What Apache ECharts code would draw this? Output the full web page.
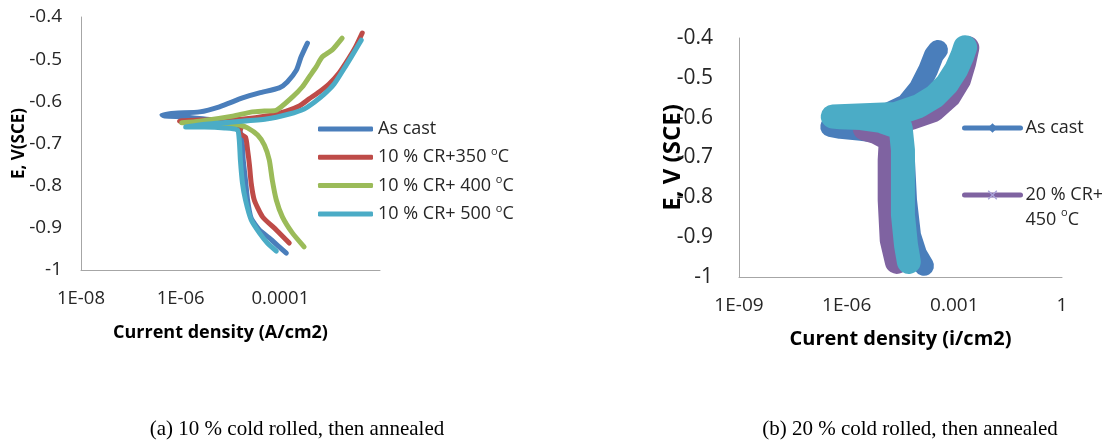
<!DOCTYPE html>
<html>
<head>
<meta charset="utf-8">
<script src="https://cdn.jsdelivr.net/npm/echarts@6/dist/echarts.min.js"></script>
<style>
  html, body { margin: 0; padding: 0; background: #fff; }
  #chart { width: 1102px; height: 442px; }
</style>
</head>
<body>
<div id="chart"></div>
<script>
// Potentiodynamic polarisation scans, each point = [current density (A/cm2), E vs SCE (V)]
// (a) 10 % cold rolled, then annealed
const asCast10 = [
  [1.32e-4, -0.960], [9.5e-5, -0.945], [6.0e-5, -0.924], [3.8e-5, -0.905], [2.6e-5, -0.877],
  [2.2e-5, -0.834], [2.0e-5, -0.787], [1.8e-5, -0.739], [1.74e-5, -0.704], [1.6e-5, -0.675],
  [1.26e-5, -0.656], [7.6e-6, -0.647], [3.0e-6, -0.642], [1.2e-6, -0.637], [4.8e-7, -0.635],
  [4.2e-7, -0.632], [7.6e-7, -0.628], [2.4e-6, -0.625], [6.0e-6, -0.613], [1.74e-5, -0.592],
  [3.8e-5, -0.580], [9.5e-5, -0.568], [1.38e-4, -0.554], [2.1e-4, -0.526], [2.6e-4, -0.495],
  [3.5e-4, -0.462]
];
const cr10_350 = [
  [1.51e-4, -0.936], [8.3e-5, -0.905], [4.4e-5, -0.874], [3.0e-5, -0.834], [2.6e-5, -0.794],
  [2.4e-5, -0.751], [2.2e-5, -0.715], [2.0e-5, -0.685], [1.5e-5, -0.675], [1.66e-5, -0.661],
  [7.6e-6, -0.651], [2.4e-6, -0.649], [9.5e-7, -0.647], [2.4e-6, -0.644], [1.1e-5, -0.644],
  [5.2e-5, -0.635], [1.32e-4, -0.623], [2.4e-4, -0.611], [3.8e-4, -0.594], [6.0e-4, -0.578],
  [9.5e-4, -0.559], [1.51e-3, -0.533], [2.4e-3, -0.497], [3.3e-3, -0.469], [4.4e-3, -0.438]
];
const cr10_400 = [
  [3.0e-4, -0.945], [1.74e-4, -0.912], [1.1e-4, -0.874], [8.3e-5, -0.834], [6.9e-5, -0.787],
  [6.0e-5, -0.739], [4.8e-5, -0.704], [3.5e-5, -0.680], [2.2e-5, -0.663], [1.5e-5, -0.656],
  [6.0e-6, -0.654], [2.4e-6, -0.651], [1.05e-6, -0.651], [2.4e-6, -0.647], [1.1e-5, -0.635],
  [2.75e-5, -0.625], [4.8e-5, -0.623], [8.3e-5, -0.621], [1.74e-4, -0.590], [2.75e-4, -0.566],
  [3.8e-4, -0.542], [5.2e-4, -0.519], [6.9e-4, -0.495], [1.1e-3, -0.478], [1.74e-3, -0.450]
];
const cr10_500 = [
  [8.3e-5, -0.955], [5.5e-5, -0.936], [3.8e-5, -0.912], [2.6e-5, -0.881], [2.0e-5, -0.834],
  [1.74e-5, -0.794], [1.58e-5, -0.739], [1.5e-5, -0.692], [1.38e-5, -0.668], [7.6e-6, -0.663],
  [3.0e-6, -0.661], [1.26e-6, -0.661], [2.4e-6, -0.656], [1.1e-5, -0.649], [5.2e-5, -0.642],
  [1.51e-4, -0.630], [3.0e-4, -0.618], [4.8e-4, -0.602], [7.6e-4, -0.583], [1.2e-3, -0.559],
  [2.1e-3, -0.514], [3.3e-3, -0.476], [4.2e-3, -0.455]
];

// (b) 20 % cold rolled, then annealed (dense noisy scans, drawn as broad bands)
const asCast20 = [
  [1.43e-4, -0.972], [9.1e-5, -0.942], [6.2e-5, -0.895], [4.8e-5, -0.807], [4.2e-5, -0.706],
  [3.7e-5, -0.651], [8.9e-6, -0.639], [2.5e-6, -0.633], [6.8e-7, -0.628], [3.5e-7, -0.623],
  [1.3e-6, -0.611], [8.9e-6, -0.596], [4.5e-5, -0.566], [1.02e-4, -0.526], [1.86e-4, -0.480],
  [2.7e-4, -0.443], [3.5e-4, -0.430]
];
const cr20_450 = [
  [2.5e-5, -0.962], [1.8e-5, -0.907], [1.58e-5, -0.807], [1.58e-5, -0.706], [1.7e-5, -0.656],
  [6.5e-6, -0.636], [3.2e-6, -0.628], [8.9e-6, -0.613], [6.2e-5, -0.601], [2.6e-4, -0.581],
  [7.1e-4, -0.546], [1.35e-3, -0.505], [1.86e-3, -0.463], [2.3e-3, -0.425]
];
const cr20_450_marks = [
  [5.4e-5, -0.962], [4.5e-5, -0.920], [3.7e-5, -0.844], [3.7e-5, -0.757], [3.7e-5, -0.681],
  [3.2e-5, -0.626], [8.9e-6, -0.608], [2.5e-6, -0.601], [6.8e-7, -0.599], [4.1e-7, -0.597],
  [2.3e-5, -0.591], [1.02e-4, -0.571], [2.9e-4, -0.546], [6.3e-4, -0.515], [1.12e-3, -0.480],
  [1.66e-3, -0.445], [2.0e-3, -0.423]
];

// Axis tick labels (decade exponent -> text)
const leftXExp = [-8, -6, -4];
const leftXLabels = ['1E-08', '1E-06', '0.0001'];
const rightXExp = [-9, -6, -3, 0];
const rightXLabels = ['1E-09', '1E-06', '0.001', '1'];

// Legend texts
const legendText = {
  asCast10: 'As cast',
  cr10_350: '10 % CR+350 °C',
  cr10_400: '10 % CR+ 400 °C',
  cr10_500: '10 % CR+ 500 °C',
  asCast20: 'As cast',
  cr20_450: '20 % CR+\n450 °C'
};
const captions = ['(a) 10 % cold rolled, then annealed', '(b) 20 % cold rolled, then annealed'];

const FONT = '"Open Sans", "Liberation Sans", sans-serif';
const TEXT = '#262626';
const AXIS = '#A6A6A6';
const BLUE = '#4A7EBB', RED = '#BE4B48', GREEN = '#9BBB59', CYAN = '#4BACC6', PURPLE = '#7F63A1', LAVENDER = '#A9A3D8';

// render the degree sign as a raised small "o"
function supLabel(text) {
  return text.split('\n').map(function (line) {
    const k = line.indexOf('°');
    if (k < 0) return '{n|' + line + '}';
    return '{n|' + line.slice(0, k) + '}{s|o}{n|' + line.slice(k + 1) + '}';
  }).join('\n');
}
function richStyle(size, lh) {
  return {
    n: { fontFamily: FONT, fontSize: size, color: TEXT, lineHeight: lh },
    s: { fontFamily: FONT, fontSize: Math.round(size * 0.62), color: TEXT, verticalAlign: 'top', lineHeight: Math.round(size * 0.62) }
  };
}
function decadeFormatter(exps, labels) {
  return function (v) {
    const k = exps.indexOf(Math.round(Math.log10(v)));
    return k < 0 ? '' : labels[k];
  };
}
function yFormatter(v) { return String(Math.round(v * 10) / 10); }

function curve(key, data, color, width, gi, smooth) {
  return {
    name: key, type: 'line', xAxisIndex: gi, yAxisIndex: gi, data: data,
    symbol: 'none', silent: true, animation: false, smooth: smooth || false,
    lineStyle: { color: color, width: width, cap: 'round', join: 'round' },
    itemStyle: { color: color }
  };
}

const crossPath = 'path://M0,1L1,0L5,4L9,0L10,1L6,5L10,9L9,10L5,6L1,10L0,9L4,5Z';

const series = [
  curve('asCast10', asCast10, BLUE, 5, 0, 0.2),
  curve('cr10_350', cr10_350, RED, 5, 0, 0.2),
  curve('cr10_400', cr10_400, GREEN, 5, 0, 0.2),
  curve('cr10_500', cr10_500, CYAN, 5, 0, 0.2),
  Object.assign(curve('asCast20', asCast20, BLUE, 20, 1), { symbol: 'diamond', showSymbol: false }),
  Object.assign(curve('cr20_450', cr20_450, PURPLE, 24, 1), { symbol: crossPath, showSymbol: false, itemStyle: { color: LAVENDER } }),
  curve('cr20_450_marks', cr20_450_marks, CYAN, 24, 1)
];

function xAxis(gi, base, min, max, exps, labels, name, fs, nfs, gap, pad) {
  return {
    type: 'log', logBase: base, min: min, max: max, gridIndex: gi,
    axisLine: { lineStyle: { color: AXIS, width: 1 } },
    axisTick: { show: false }, splitLine: { show: false },
    axisLabel: { fontFamily: FONT, fontSize: fs, color: TEXT, margin: 19, formatter: decadeFormatter(exps, labels) },
    name: name, nameLocation: 'middle', nameGap: gap,
    nameTextStyle: { fontFamily: FONT, fontSize: nfs, fontWeight: 'bold', color: '#000', padding: pad }
  };
}
function yAxis(gi, name, fs, nfs, margin, gap) {
  return {
    type: 'value', min: -1, max: -0.4, interval: 0.1, gridIndex: gi,
    axisLine: { show: true, lineStyle: { color: AXIS, width: 1 } },
    axisTick: { show: false }, splitLine: { show: false },
    axisLabel: { fontFamily: FONT, fontSize: fs, color: TEXT, margin: margin, formatter: yFormatter },
    name: name, nameLocation: 'middle', nameGap: gap, nameMoveOverlap: false,
    nameTextStyle: { fontFamily: FONT, fontSize: nfs, fontWeight: 'bold', color: '#000' }
  };
}

const chart = echarts.init(document.getElementById('chart'), null, { renderer: 'canvas' });
chart.setOption({
  backgroundColor: '#fff',
  animation: false,
  title: [
    { text: captions[0], left: 297, top: 419, textAlign: 'center', padding: 0,
      textStyle: { fontFamily: '"Liberation Serif", "Times New Roman", serif', fontSize: 21, fontWeight: 'normal', color: '#000' } },
    { text: captions[1], left: 910, top: 419, textAlign: 'center', padding: 0,
      textStyle: { fontFamily: '"Liberation Serif", "Times New Roman", serif', fontSize: 21, fontWeight: 'normal', color: '#000' } }
  ],
  grid: [
    { left: 81, top: 17, width: 299, height: 253 },
    { left: 739, top: 38, width: 323, height: 239 }
  ],
  xAxis: [
    xAxis(0, 100, 1e-8, 1e-2, leftXExp, leftXLabels, 'Current density (A/cm2)', 18.5, 18, 54, [0, 20, 0, 0]),
    xAxis(1, 1000, 1e-9, 1, rightXExp, rightXLabels, 'Curent density (i/cm2)', 19, 20, 52, 0)
  ],
  yAxis: [
    yAxis(0, 'E, V(SCE)', 19, 17, 19, 53),
    yAxis(1, 'E, V (SCE)', 21, 24, 26, 54)
  ],
  legend: [
    {
      orient: 'vertical', left: 318, top: 120, padding: 0, itemGap: 8.3,
      itemWidth: 55, itemHeight: 5, selectedMode: false,
      data: ['asCast10', 'cr10_350', 'cr10_400', 'cr10_500'].map(function (n) { return { name: n, icon: 'roundRect' }; }),
      formatter: function (n) { return supLabel(legendText[n]); },
      textStyle: { rich: richStyle(18, 22) }
    },
    {
      orient: 'vertical', left: 962, top: 119, padding: 0,
      itemWidth: 56, itemHeight: 12, selectedMode: false,
      data: ['asCast20'],
      formatter: function (n) { return supLabel(legendText[n]); },
      lineStyle: { width: 5, cap: 'round' },
      textStyle: { rich: richStyle(18, 22) }
    },
    {
      orient: 'vertical', left: 962, top: 186, padding: 0,
      itemWidth: 56, itemHeight: 12, selectedMode: false,
      data: ['cr20_450'],
      formatter: function (n) { return supLabel(legendText[n]); },
      lineStyle: { width: 5, cap: 'round' },
      textStyle: { rich: richStyle(18, 25), padding: [25, 0, 0, 0] }
    }
  ],
  series: series
});
</script>
</body>
</html>
